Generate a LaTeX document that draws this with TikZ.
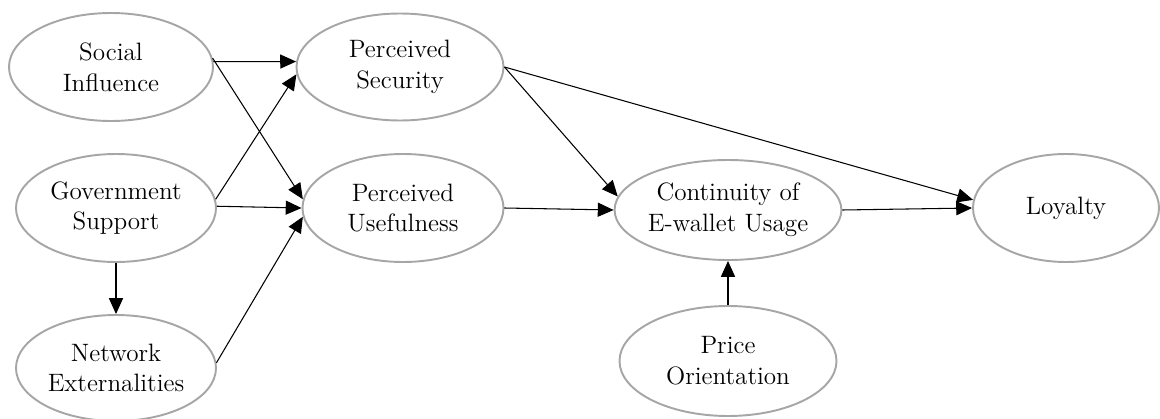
\documentclass[tikz,border=0pt]{standalone}
\definecolor{ovalgray}{RGB}{166,166,166}
\usepackage{tikz}
\usetikzlibrary{shapes.geometric,arrows.meta}
\begin{document}
\begin{tikzpicture}[font=\fontsize{14.3pt}{17.5pt}\selectfont,
          every node/.style={align=center},
          construct/.style={ellipse, draw=ovalgray, line width=1.1pt,
                            inner sep=0pt},
          hyp/.style={-{Triangle[length=9pt,width=8pt]}, line width=0.6pt}]
  \useasboundingbox (0,0) rectangle (23.2,8.36);
  % Constructs of the model
  \foreach \cid/\cx/\cy/\cw/\ch/\ctext in {
    SI/2.22/7.02/4.08/2.16/Social\\Influence,
    PS/8.00/7.02/4.14/2.14/Perceived\\Security,
    GS/2.32/4.20/4.00/2.16/Government\\Support,
    PU/8.06/4.20/4.02/2.16/Perceived\\Usefulness,
    NE/2.32/1.00/4.00/2.12/Network\\Externalities,
    CE/14.56/4.16/4.46/2.00/Continuity of\\E-wallet Usage,
    LO/21.32/4.20/3.72/2.16/Loyalty,
    PO/14.56/1.14/4.34/2.20/Price\\Orientation
  }{
    \node[construct, minimum width=\cw cm, minimum height=\ch cm]
      (\cid) at (\cx,\cy) {\ctext};
  }
  % Hypothesised paths
  \foreach \a/\b in {SI.3/PS.177, SI.5/PU.175, GS.5/PS.184, GS.1/PU.180,
                     GS.south/NE.north, NE.3/PU.185, PS.east/CE.173,
                     PS.east/LO.175, PU.east/CE.west, CE.east/LO.west,
                     PO.north/CE.south}
    \draw[hyp] (\a) -- (\b);
\end{tikzpicture}
\end{document}
